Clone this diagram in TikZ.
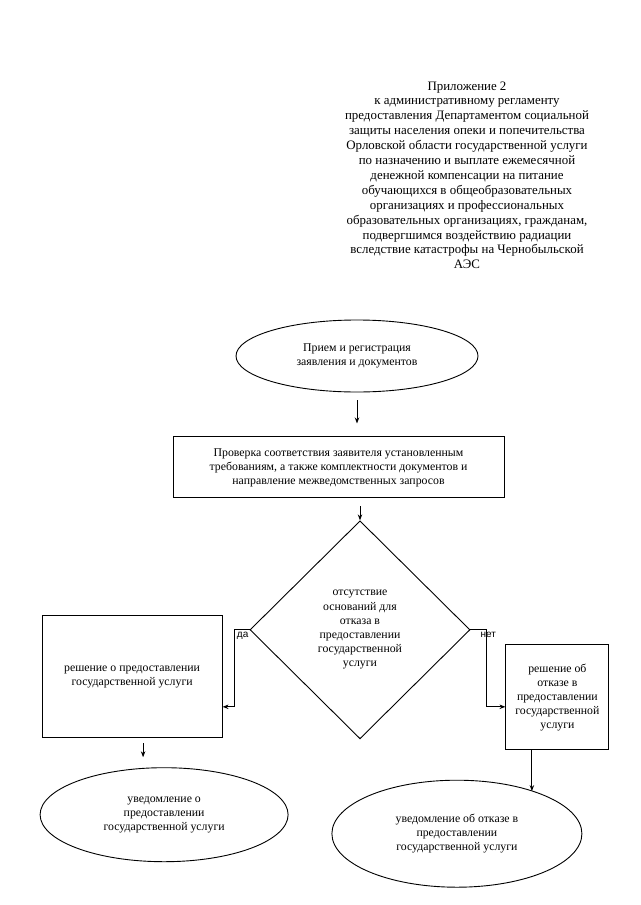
\documentclass[tikz,border=0pt]{standalone}
\usepackage{fontspec}
\setmainfont{Liberation Serif}
\setsansfont{Liberation Sans}
\usepackage{tikz}
\usetikzlibrary{positioning}
\usetikzlibrary{shapes.geometric,arrows.meta,calc}
\tikzstyle{stage} = [ellipse, draw, align=center, line width=0.9pt, inner sep=0pt, font=\fontsize{11.8}{14}\selectfont]
\tikzstyle{task} = [rectangle, draw, align=center, line width=0.9pt, inner sep=0pt, font=\fontsize{11.8}{14}\selectfont]
\tikzstyle{check} = [diamond, draw, align=center, line width=0.9pt, inner sep=0pt, font=\fontsize{11.8}{14.2}\selectfont]
\tikzstyle{answer} = [font=\sffamily\fontsize{10}{11}\selectfont, inner sep=1pt]
\tikzstyle{arrow} = [->,>={Stealth[length=6pt,width=4.5pt]},line width=0.9pt]
\begin{document}
\begin{tikzpicture}[x=1pt,y=1pt]
		\useasboundingbox (0,0) rectangle (640,-905);
		\node[align=center,anchor=north,font=\fontsize{12.9}{14.9}\selectfont] (annex) at (467,-78) {Приложение 2\\ к административному регламенту\\ предоставления Департаментом социальной\\ защиты населения опеки и попечительства\\ Орловской области государственной услуги\\ по назначению и выплате ежемесячной\\ денежной компенсации на питание\\ обучающихся в общеобразовательных\\ организациях и профессиональных\\ образовательных организациях, гражданам,\\ подвергшимся воздействию радиации\\ вследствие катастрофы на Чернобыльской\\ АЭС};
		\node[stage,minimum width=242pt,minimum height=72pt] (recv) at (357,-356) {Прием и регистрация\\ заявления и документов};
		\node[task,below=44pt of recv,xshift=-18.5pt,minimum width=331pt,minimum height=61pt] (verify) {Проверка соответствия заявителя установленным\\ требованиям, а также комплектности документов и\\ направление межведомственных запросов};
		\node[check,below=22pt of verify,xshift=21.5pt,minimum width=220pt,minimum height=218pt] (grounds) {отсутствие\\ оснований для\\ отказа в\\ предоставлении\\ государственной\\ услуги};
		\node[task,left=27pt of grounds,yshift=-47pt,minimum width=180pt,minimum height=122pt] (grant) {решение о предоставлении\\ государственной услуги};
		\node[task,right=35pt of grounds,yshift=-67.5pt,minimum width=103pt,minimum height=105pt] (deny) {решение об\\ отказе в\\ предоставлении\\ государственной\\ услуги};
		\node[stage,below=29pt of grant,xshift=32pt,minimum width=248pt,minimum height=94pt] (grantmsg) {уведомление о\\ предоставлении\\ государственной услуги};
		\node[stage,below=29.5pt of deny,xshift=-100.5pt,minimum width=250pt,minimum height=107pt] (denymsg) {уведомление об отказе в\\ предоставлении\\ государственной услуги};
		\draw[arrow,shorten <=8pt,shorten >=13pt] (recv.south)--(recv.south |- verify.north);
		\draw[arrow,shorten <=8pt] (grounds.north |- verify.south)--(grounds.north);
		\draw[arrow] (grounds.west)--++(-15pt,0)|-([yshift=-30pt]grant.east);
		\draw[arrow] (grounds.east)--++(16pt,0)|-([yshift=-9.5pt]deny.west);
		\node[answer,below left=1.5pt and 0pt of grounds.west] (yes) {да};
		\node[answer,below right=1.5pt and 9pt of grounds.east] (no) {нет};
		\draw[arrow,shorten <=5pt,shorten >=10pt] ([xshift=11pt]grant.south)--([xshift=11pt]grant.south |- grantmsg.north);
		\draw[arrow] ([xshift=-25.5pt]deny.south)--([xshift=-25.5pt]deny.south |- denymsg.29);
	\end{tikzpicture}
\end{document}
